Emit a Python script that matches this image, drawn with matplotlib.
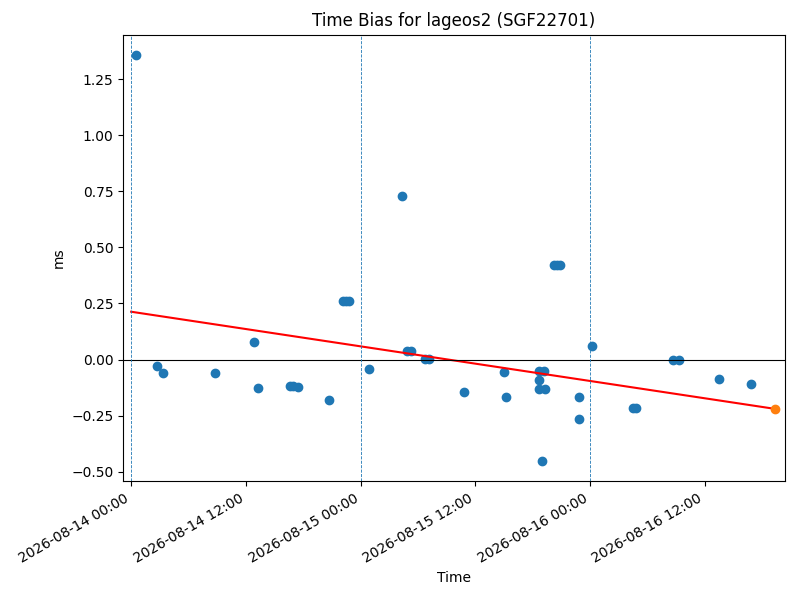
import numpy as np
import pandas as pd
import matplotlib
matplotlib.use('Agg')
import matplotlib.pyplot as plt
import matplotlib.dates as mdates

# observation times and time bias (ms)
times = ['2026-08-14 00:31', '2026-08-14 02:43', '2026-08-14 03:21', '2026-08-14 08:47',
         '2026-08-14 12:52', '2026-08-14 13:17', '2026-08-14 16:38', '2026-08-14 16:56',
         '2026-08-14 17:28', '2026-08-14 20:42', '2026-08-14 22:10', '2026-08-14 22:29',
         '2026-08-14 22:48', '2026-08-15 00:56', '2026-08-15 04:20', '2026-08-15 04:52',
         '2026-08-15 05:17', '2026-08-15 06:45', '2026-08-15 07:10', '2026-08-15 10:49',
         '2026-08-15 15:00', '2026-08-15 15:13', '2026-08-15 18:40', '2026-08-15 19:11',
         '2026-08-15 18:40', '2026-08-15 18:40', '2026-08-15 19:18', '2026-08-15 18:59',
         '2026-08-15 20:14', '2026-08-15 20:33', '2026-08-15 20:52', '2026-08-15 22:51',
         '2026-08-15 22:51', '2026-08-16 00:13', '2026-08-16 04:30', '2026-08-16 04:49',
         '2026-08-16 08:41', '2026-08-16 09:19', '2026-08-16 13:29', '2026-08-16 16:50']
bias = [1.357, -0.031, -0.058, -0.058,
        0.076, -0.125, -0.118, -0.120,
        -0.122, -0.179, 0.263, 0.263,
        0.263, -0.042, 0.731, 0.036,
        0.036, 0.002, 0.002, -0.147,
        -0.054, -0.167, -0.050, -0.050,
        -0.091, -0.130, -0.130, -0.452,
        0.423, 0.423, 0.423, -0.167,
        -0.265, 0.058, -0.216, -0.216,
        0.000, 0.000, -0.086, -0.108]

# trend line and predicted point
trend_times = ['2026-08-14 00:00', '2026-08-16 19:21']
trend_vals = [0.213, -0.220]
pred_time = '2026-08-16 19:21'
pred_val = -0.220

day_lines = ['2026-08-14', '2026-08-15', '2026-08-16']

t = pd.to_datetime(times)
fig, ax = plt.subplots(figsize=(8, 6), dpi=100)
ax.scatter(t, bias)
ax.plot(pd.to_datetime(trend_times), trend_vals, color='red')
ax.scatter(pd.to_datetime([pred_time]), [pred_val], color='C1', zorder=3)
ax.axhline(0, color='black', linewidth=0.8)
for d in day_lines:
    ax.axvline(pd.Timestamp(d), color='C0', linestyle='--', linewidth=0.6)

ax.set_xlim(pd.Timestamp('2026-08-14 00:00') - pd.Timedelta(minutes=50),
            pd.Timestamp('2026-08-16 20:23'))
ax.xaxis.set_major_locator(mdates.HourLocator(byhour=[0, 12]))
ax.xaxis.set_major_formatter(mdates.DateFormatter('%Y-%m-%d %H:%M'))
ax.set_title('Time Bias for lageos2 (SGF22701)')
ax.set_xlabel('Time')
ax.set_ylabel('ms')
fig.autofmt_xdate()
fig.subplots_adjust(left=0.154, right=0.981, top=0.942, bottom=0.198)
fig.savefig('out.png')
